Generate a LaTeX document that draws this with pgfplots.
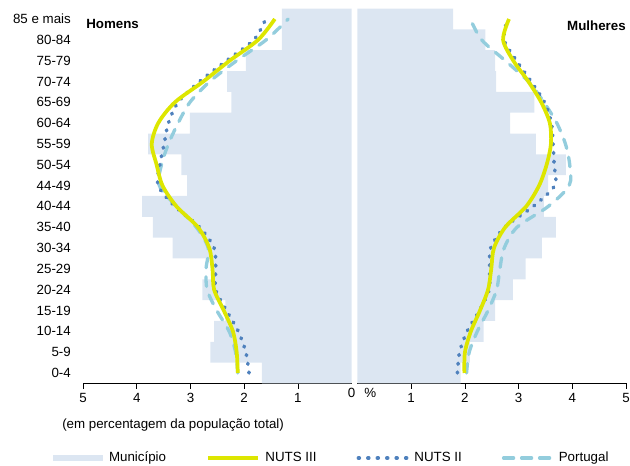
\documentclass[border=0pt]{standalone}
\usepackage{fontspec}
\setmainfont{Liberation Sans}
\usepackage{pgfplots}
\pgfplotsset{compat=1.18}

\definecolor{barcol}{RGB}{220,230,242}
\definecolor{nutsiii}{RGB}{221,230,0}
\definecolor{nutsii}{RGB}{79,129,189}
\definecolor{portugal}{RGB}{147,205,221}

\pgfplotsset{
  pyramid/.style={
    scale only axis,
    width=201.5pt, height=281.1pt,
    xmin=0, xmax=5, ymin=-0.5, ymax=17.5,
    axis x line*=bottom,
    y axis line style={draw=none},
    ytick={0,...,17},
    ytick style={draw=none},
    xtick={1,2,3,4,5},
    tick align=outside,
    major tick length=4pt,
    x tick style={black, line width=0.6pt},
    x axis line style={black, line width=0.6pt},
    tick label style={font=\fontsize{10}{12}\selectfont},
    /pgf/number format/assume math mode=true,
    clip=false,
  },
  mun/.style={xbar, bar width=1, fill=barcol, draw=none},
  n3/.style={color=nutsiii, line width=2.8pt, smooth, tension=0.5, no markers},
  n2/.style={color=nutsii, line width=2.7pt, smooth, tension=0.5, no markers,
    line cap=round, dash pattern=on 0.7pt off 5.9pt},
  pt/.style={color=portugal, line width=2.5pt, smooth, tension=0.5, no markers,
    line cap=round, dash pattern=on 7.2pt off 6.8pt},
}

\begin{document}
\begin{tikzpicture}
\path[use as bounding box] (0,0) rectangle (472.5pt,349.5pt);

% Homens
\begin{axis}[pyramid,
  at={(62.25pt,61.95pt)}, anchor=south west,
  x dir=reverse,
  yticklabels={0-4,5-9,10-14,15-19,20-24,25-29,30-34,35-40,40-44,44-49,50-54,55-59,60-64,65-69,70-74,75-79,80-84,85 e mais},
  yticklabel style={xshift=-1.6pt},
  xticklabels={1,2,3,4,5},
  extra x ticks={0},
  extra x tick labels={0\rlap{\hspace{6.8pt}\%}},
  extra x tick style={major tick length=0pt},
]
\addplot[mun] coordinates {
(1.67,0) (2.63,1) (2.56,2) (2.35,3) (2.78,4) (2.60,5) (3.33,6) (3.70,7) (3.90,8)
(3.06,9) (3.17,10) (3.79,11) (3.01,12) (2.24,13) (2.32,14) (1.97,15) (1.30,16) (1.30,17)};
\addplot[pt] coordinates {
(2.12,0) (2.16,1) (2.28,2) (2.51,3) (2.69,4) (2.71,5) (2.67,6) (2.89,7) (3.26,8)
(3.58,9) (3.54,10) (3.41,11) (3.23,12) (3.01,13) (2.64,14) (2.14,15) (1.59,16) (1.18,17)};
\addplot[n2] coordinates {
(1.91,0) (1.97,1) (2.11,2) (2.33,3) (2.53,4) (2.53,5) (2.56,6) (2.83,7) (3.29,8)
(3.60,9) (3.57,10) (3.49,11) (3.41,12) (3.23,13) (2.83,14) (2.33,15) (1.82,16) (1.60,17)};
\addplot[n3] coordinates {
(2.12,0) (2.14,1) (2.21,2) (2.38,3) (2.56,4) (2.59,5) (2.65,6) (2.86,7) (3.26,8)
(3.52,9) (3.63,10) (3.72,11) (3.60,12) (3.29,13) (2.76,14) (2.27,15) (1.74,16) (1.43,17)};
\end{axis}

% Mulheres
\begin{axis}[pyramid,
  at={(268.1pt,61.95pt)}, anchor=south west,
  yticklabels={},
  xticklabels={1,2,3,4,5},
  legend columns=4,
  legend style={at={(-1.134,-0.199)}, anchor=west, draw=none, fill=none,
    inner sep=0pt, font=\fontsize{10}{12}\selectfont,
    nodes={inner sep=0pt},
    column sep=4.5pt,
    /tikz/every even column/.append style={column sep=30pt}},
]
\addplot[mun, forget plot] coordinates {
(1.92,0) (2.09,1) (2.35,2) (2.56,3) (2.89,4) (3.13,5) (3.43,6) (3.69,7) (3.47,8)
(3.55,9) (3.88,10) (3.32,11) (2.84,12) (3.29,13) (2.58,14) (2.56,15) (2.38,16) (1.78,17)};
\addplot[pt, forget plot] coordinates {
(2.03,0) (2.08,1) (2.23,2) (2.43,3) (2.59,4) (2.65,5) (2.73,6) (2.97,7) (3.55,8)
(3.94,9) (3.95,10) (3.87,11) (3.71,12) (3.47,13) (3.18,14) (2.75,15) (2.31,16) (2.10,17)};
\addplot[n2, forget plot] coordinates {
(1.86,0) (1.90,1) (2.04,2) (2.27,3) (2.45,4) (2.46,5) (2.48,6) (2.74,7) (3.27,8)
(3.67,9) (3.66,10) (3.64,11) (3.61,12) (3.48,13) (3.23,14) (2.96,15) (2.73,16) (2.79,17)};
\addplot[n3, forget plot] coordinates {
(1.99,0) (2.00,1) (2.11,2) (2.28,3) (2.43,4) (2.49,5) (2.54,6) (2.75,7) (3.14,8)
(3.38,9) (3.52,10) (3.60,11) (3.58,12) (3.42,13) (3.18,14) (2.90,15) (2.71,16) (2.82,17)};

\addlegendimage{legend image code/.code={\fill[barcol, draw=none] (0pt,-2.5pt) rectangle (37.5pt,2.5pt);}}
\addlegendentry{Município}
\addlegendimage{legend image code/.code={\path[draw=none, fill=none] (0pt,0pt) -- (37.5pt,0pt);\draw[nutsiii, line width=2.5pt] (1pt,0pt) -- (38.5pt,0pt);}}
\addlegendentry{NUTS III}
\addlegendimage{legend image code/.code={\path[draw=none, fill=none] (0pt,0pt) -- (37.5pt,0pt);\draw[nutsii, line width=2.7pt, line cap=round, dash pattern=on 0.7pt off 6.4pt] (1.3pt,0pt) -- (37.5pt,0pt);}}
\addlegendentry{NUTS II}
\addlegendimage{legend image code/.code={\path[draw=none, fill=none] (0pt,0pt) -- (37.5pt,0pt);\draw[portugal, line width=2.5pt, line cap=round, dash pattern=on 7.5pt off 6pt] (1.3pt,0pt) -- (37pt,0pt);}}
\addlegendentry{Portugal}
\end{axis}

\node[anchor=west, font=\fontsize{10}{12}\selectfont\bfseries, inner sep=0pt] at (64.5pt,331.5pt) {Homens};
\node[anchor=east, font=\fontsize{10}{12}\selectfont\bfseries, inner sep=0pt] at (469.5pt,330pt) {Mulheres};
\node[anchor=west, font=\fontsize{10}{12}\selectfont, inner sep=0pt] at (46.5pt,30.75pt) {(em percentagem da população total)};
\end{tikzpicture}
\end{document}
